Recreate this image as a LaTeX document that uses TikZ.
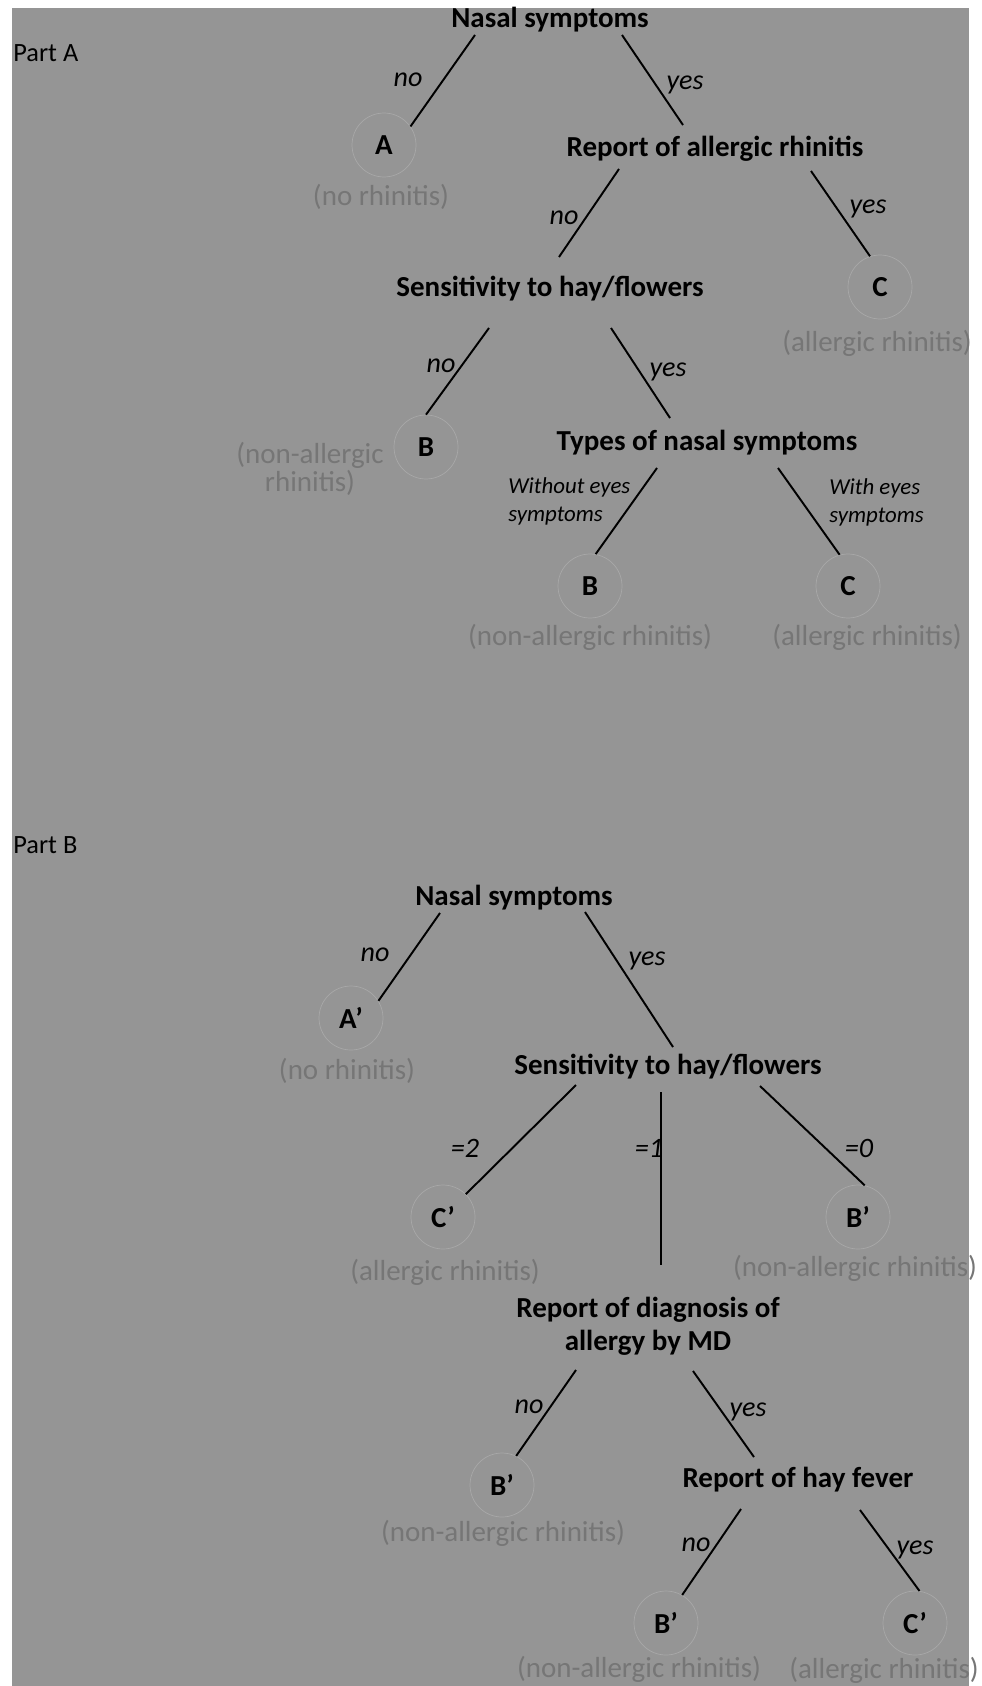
\documentclass[tikz,border=0pt]{standalone}
\usepackage{fontspec}
\setmainfont{Carlito}
\usetikzlibrary{calc}

\definecolor{bggray}{RGB}{149,149,149}
\definecolor{dxgray}{RGB}{118,118,118}
\definecolor{ringgray}{RGB}{168,168,168}

\begin{document}
\begin{tikzpicture}[
    x							= 0.02cm,
	y							= -0.02cm,
	font						= \fontsize{16.5}{18.8}\selectfont,
    quest/.style={font=\fontsize{16.5}{18.8}\selectfont\bfseries, align=center, inner sep=0pt},
    leaf/.style={circle, draw=ringgray, thin, minimum size=1.28cm, inner sep=0pt, font=\fontsize{16.5}{18.8}\selectfont\bfseries},
    dx/.style={text=dxgray, inner sep=0pt, align=center, font=\fontsize{16.5}{13.5}\selectfont},
    lbl/.style={font=\fontsize{16}{18}\selectfont\itshape, inner sep=0pt},
    eyelbl/.style={font=\fontsize{13}{16}\selectfont\itshape, inner sep=0pt, align=left, anchor=west},
    partlbl/.style={font=\fontsize{15}{18}\selectfont, inner sep=0pt, anchor=west},
    branch/.style={draw=black, line width=1.1pt},
    ]

\useasboundingbox (0,0) rectangle (981,1686);
\fill[bggray] (12,8) rectangle (969,1686);

% Part A
\node[partlbl] (partA) at (13,53) {Part A};
\node[quest] (nsA) at (550,20) {Nasal symptoms};
\node[leaf] (A) at (384,145) {A};
\node[dx] (dxA) at (381,197) {(no rhinitis)};
\node[quest] (rep) at (715,149) {Report of allergic rhinitis};
\node[quest] (sensA) at (550,289) {Sensitivity to hay/flowers};
\node[leaf] (C1) at (880,287) {C};
\node[dx] (dxC1) at (877,343) {(allergic rhinitis)};
\node[leaf] (B1) at (426,447) {B};
\node[dx] (dxB1) at (310,469) {(non-allergic\\rhinitis)};
\node[quest] (types) at (707,443) {Types of nasal symptoms};
\node[leaf] (B2) at (590,586) {B};
\node[leaf] (C2) at (848,586) {C};
\node[dx] (dxB2) at (590,637) {(non-allergic rhinitis)};
\node[dx] (dxC2) at (867,637) {(allergic rhinitis)};

\draw[branch] ($(nsA)+(-75,15)$) -- (A.35);
\draw[branch] ($(nsA)+(72,15)$) -- ($(rep)+(-32,-24)$);
\draw[branch] ($(rep)+(-96,20)$) -- ($(sensA)+(9,-32)$);
\draw[branch] ($(rep)+(96,22)$) -- (C1.108);
\draw[branch] ($(sensA)+(-61,39)$) -- (B1.north);
\draw[branch] ($(sensA)+(61,39)$) -- ($(types)+(-37,-25)$);
\draw[branch] ($(types)+(-50,25)$) -- (B2.80);
\draw[branch] ($(types)+(71,25)$) -- (C2.105);

\node[lbl] (noA1) at (408,80) {no};
\node[lbl] (yesA1) at (685,85) {yes};
\node[lbl] (noA2) at (564,218) {no};
\node[lbl] (yesA2) at (868,209) {yes};
\node[lbl] (noA3) at (441,366) {no};
\node[lbl] (yesA3) at (668,372) {yes};
\node[eyelbl] (woeyes) at (508,501) {Without eyes\\symptoms};
\node[eyelbl] (weyes) at (829,502) {With eyes\\symptoms};

% Part B
\node[partlbl] (partB) at (13,845) {Part B};
\node[quest] (nsB) at (514,898) {Nasal symptoms};
\node[leaf] (Ap) at (351,1018) {A’};
\node[dx] (dxAp) at (347,1071) {(no rhinitis)};
\node[quest] (sensB) at (668,1067) {Sensitivity to hay/flowers};
\node[leaf] (Cp1) at (443,1217) {C’};
\node[dx] (dxCp1) at (445,1272) {(allergic rhinitis)};
\node[leaf] (Bp1) at (858,1217) {B’};
\node[dx] (dxBp1) at (855,1268) {(non-allergic rhinitis)};
\node[quest] (diag) at (648,1326) {Report of diagnosis of\\allergy by MD};
\node[leaf] (Bp2) at (502,1485) {B’};
\node[dx] (dxBp2) at (503,1533) {(non-allergic rhinitis)};
\node[quest] (hay) at (798,1480) {Report of hay fever};
\node[leaf] (Bp3) at (666,1623) {B’};
\node[dx] (dxBp3) at (639,1669) {(non-allergic rhinitis)};
\node[leaf] (Cp2) at (915,1623) {C’};
\node[dx] (dxCp2) at (884,1670) {(allergic rhinitis)};

\draw[branch] ($(nsB)+(-74,15)$) -- (Ap.32);
\draw[branch] ($(nsB)+(71,14)$) -- ($(sensB)+(5,-20)$);
\draw[branch] ($(sensB)+(-92,18)$) -- (Cp1.45);
\draw[branch] ($(sensB)+(-7,25)$) -- ($(diag)+(13,-61)$);
\draw[branch] ($(sensB)+(92,19)$) -- (Bp1.78);
\draw[branch] ($(diag)+(-72,44)$) -- (Bp2.64);
\draw[branch] ($(diag)+(45,45)$) -- ($(hay)+(-44,-23)$);
\draw[branch] ($(hay)+(-57,29)$) -- (Bp3.60);
\draw[branch] ($(hay)+(62,30)$) -- (Cp2.82);

\node[lbl] (noB1) at (375,955) {no};
\node[lbl] (yesB1) at (647,961) {yes};
\node[lbl] (eqtwo) at (465,1148) {=2};
\node[lbl] (eqone) at (649,1148) {=1};
\node[lbl] (eqzero) at (859,1148) {=0};
\node[lbl] (noB2) at (529,1407) {no};
\node[lbl] (yesB2) at (748,1412) {yes};
\node[lbl] (noB3) at (696,1545) {no};
\node[lbl] (yesB3) at (915,1550) {yes};

\end{tikzpicture}
\end{document}
